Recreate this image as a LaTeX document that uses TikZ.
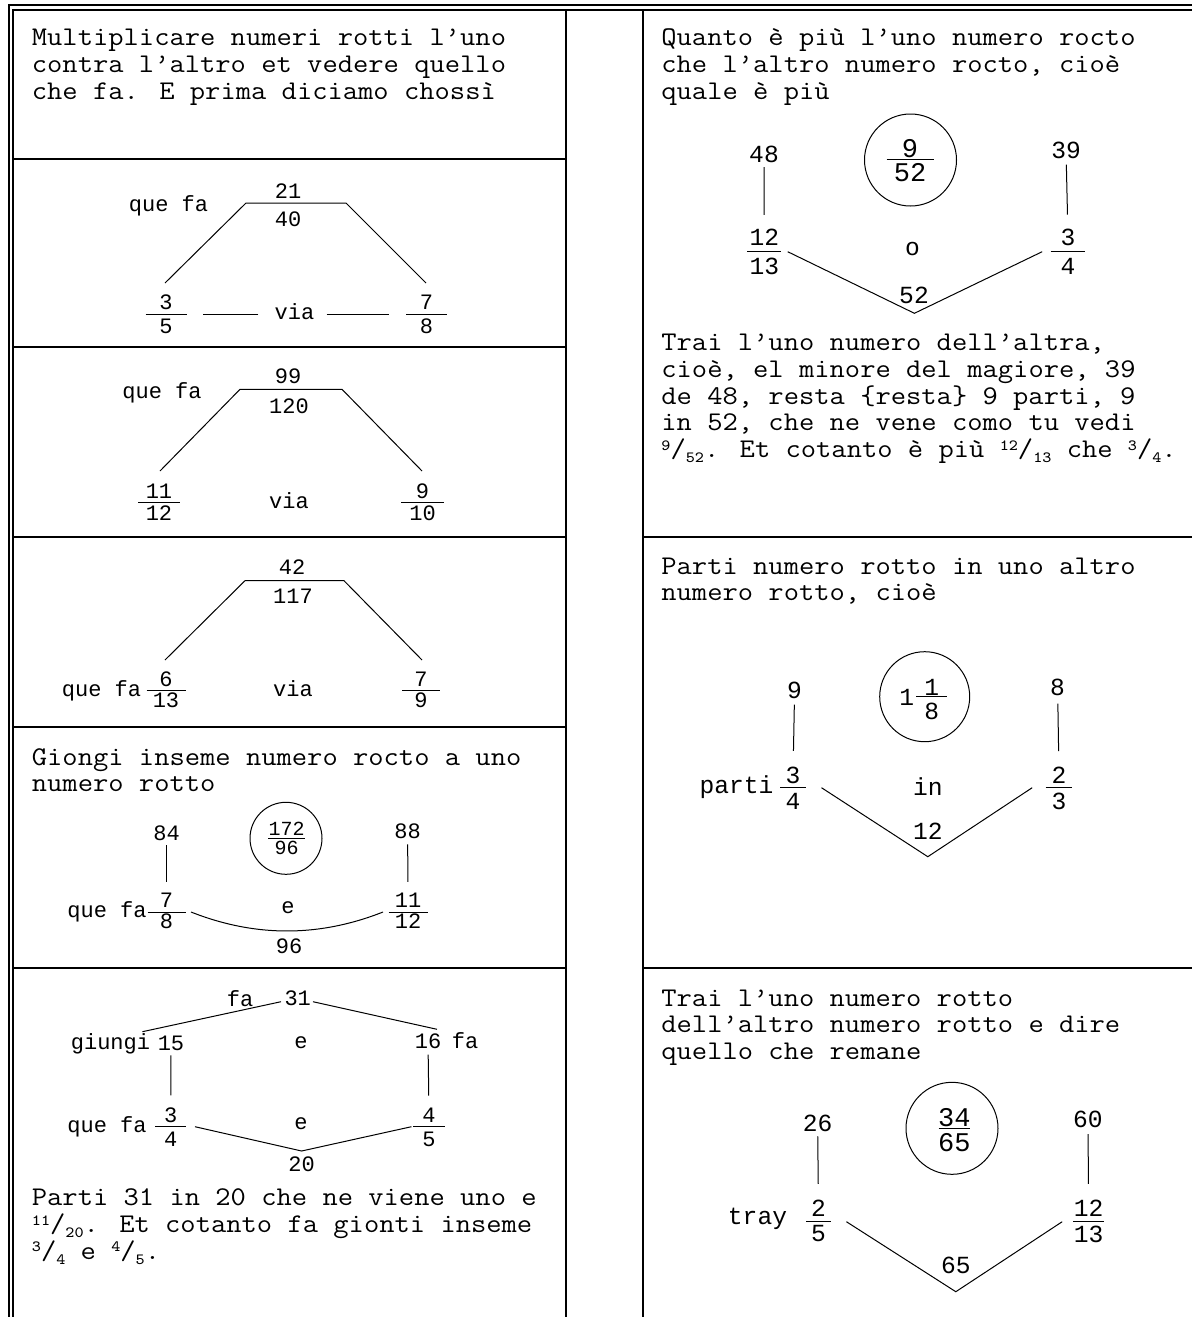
\documentclass[tikz,border=0pt]{standalone}
\usepackage{fontspec}
\usepackage{graphicx}
\newfontfamily\cour{Liberation Mono}
\usetikzlibrary{calc}
\newcommand\mtxt{\ttfamily\fontsize{13.5}{14}\selectfont}
\newcommand\lblL{\cour\fontsize{11}{12}\selectfont}
\newcommand\lblS{\cour\fontsize{10}{11}\selectfont}
\newcommand\lblR{\cour\fontsize{12.3}{13}\selectfont}
\newcommand\lblC{\cour\fontsize{13.5}{14}\selectfont}
\newcommand\sfr[2]{\raisebox{3.6pt}{\fontsize{7.8}{8}\selectfont #1}/\raisebox{-2.5pt}{\fontsize{7.8}{8}\selectfont #2}}
\tikzset{
  frameline/.style={line width=0.9pt},
  cellline/.style={line width=1.15pt},
  conn/.style={line width=0.5pt},
  txt/.style={font=\mtxt, anchor=base west, inner sep=0pt},
  labL/.style={font=\lblL, inner sep=0pt},
  labS/.style={font=\lblS, inner sep=0pt},
  labR/.style={font=\lblR, inner sep=0pt},
  labC/.style={font=\lblC, inner sep=0pt},
  ring/.style={draw, circle, line width=0.5pt, inner sep=0pt},
}
\newcommand\frc[9][labL]{%
  \coordinate (#2) at (#3,#4);
  \draw[conn] ({#3-#5},#4) -- ({#3+#5},#4);
  \node[#1] (#2n) at (#3,{#4-#6}) {#8};
  \node[#1] (#2d) at (#3,{#4+#7}) {#9};
}
\newcommand\mytl[3]{\node[txt] (#1) at #2 {\scalebox{1.10}[1]{#3}};}
\begin{document}
\begin{tikzpicture}[x=0.5pt,y=-0.5pt]
\useasboundingbox (0,0) rectangle (1192,1317);
% frame
\draw[frameline] (9,1317) -- (9,5) -- (1192,5);
\draw[frameline] (13,1317) -- (13,10) -- (1192,10);
\draw[cellline] (566,10) -- (566,1317);
\draw[cellline] (643,10) -- (643,1317);
\foreach \yy in {159,347,537,727,968} {\draw[cellline] (13,\yy) -- (566,\yy);}
\foreach \yy in {537,968} {\draw[cellline] (643,\yy) -- (1192,\yy);}

% ---------- L1
\mytl{L1a}{(31.5,46)}{Multiplicare numeri rotti l’uno}
\mytl{L1b}{(31.5,72.6)}{contra l’altro et vedere quello}
\mytl{L1c}{(31.5,99.2)}{che fa. E prima diciamo chossì}

% ---------- L2
\node[labL] (L2q) at (168.5,206) {que fa};
\node[labL] (L2n) at (288,191) {21};
\node[labL] (L2d) at (288,219) {40};
\coordinate (L2tl) at (246,203); \coordinate (L2tr) at (346,203);
\coordinate (L2bl) at (165,283); \coordinate (L2br) at (426,283);
\draw[conn] (L2bl) -- (L2tl) -- (L2tr) -- (L2br);
\frc{L2a}{166}{314}{20.5}{12}{12}{3}{5}
\frc{L2b}{426.5}{314}{20.5}{12}{12}{7}{8}
\node[labL] (L2v) at (294.5,312) {via};
\draw[conn] ($(L2v.west)+(-16,2)$) -- ($(L2v.west)+(-71,2)$);
\draw[conn] ($(L2v.east)+(12,2)$) -- ($(L2v.east)+(74,2)$);

% ---------- L3
\node[labL] (L3q) at (162,392.7) {que fa};
\node[labL] (L3n) at (288,376) {99};
\node[labL] (L3d) at (289,406) {120};
\coordinate (L3tl) at (240,389.3); \coordinate (L3tr) at (342,389.3);
\coordinate (L3bl) at (160,471); \coordinate (L3br) at (422,471);
\draw[conn] (L3bl) -- (L3tl) -- (L3tr) -- (L3br);
\frc{L3a}{159}{502.7}{21}{11}{10.6}{11}{12}
\frc{L3b}{422.5}{502.7}{21.5}{11}{10.6}{9}{10}
\node[labL] (L3v) at (289,500.7) {via};

% ---------- L4
\node[labL] (L4n) at (292,566.7) {42};
\node[labL] (L4d) at (293,596) {117};
\coordinate (L4tl) at (245,580.7); \coordinate (L4tr) at (344,580.7);
\coordinate (L4bl) at (165,660); \coordinate (L4br) at (422,660);
\draw[conn] (L4bl) -- (L4tl) -- (L4tr) -- (L4br);
\node[labL] (L4q) at (101.5,691) {que fa};
\frc{L4a}{166}{690}{19.5}{11}{10.7}{6}{13}
\frc{L4b}{421}{690}{19}{11}{10.7}{7}{9}
\node[labL] (L4v) at (293,689) {via};

% ---------- L5
\mytl{L5x1}{(31.5,765)}{Giongi inseme numero rocto a uno}
\mytl{L5x2}{(31.5,791.5)}{numero rotto}
\node[labL] (L5a) at (166.5,833.3) {84};
\node[labL] (L5b) at (407.6,831) {88};
\node[ring, minimum size=36pt] (L5c) at (286,838.3) {};
\frc[labS]{L5f}{286.5}{838.3}{18.5}{9.8}{9.8}{172}{96}
\node[labL] (L5q) at (107,911.7) {que fa};
\frc{L5g}{166.5}{912}{19}{12}{9}{7}{8}
\frc{L5h}{408}{912}{19.5}{12}{9}{11}{12}
\draw[conn, shorten <=2pt, shorten >=5pt] (L5a) -- (L5gn);
\draw[conn, shorten <=2.7pt, shorten >=5.2pt] (L5b) -- (L5hn);
\node[labL] (L5e) at (288,907.7) {e};
\coordinate (L5cl) at (191,912); \coordinate (L5cr) at (383,912);
\draw[conn] (L5cl) .. controls (255,937.3) and (319,937.3) .. (L5cr);
\node[labL] (L5s) at (289,946) {96};

% ---------- L6
\node[labL] (L6fa) at (240,998.3) {fa};
\node[labL] (L6t) at (297.7,998) {31};
\coordinate (L6t1) at (281,1001.7); \coordinate (L6t2) at (313,1001.7);
\coordinate (L6l) at (142.4,1031.7); \coordinate (L6r) at (437,1029.3);
\draw[conn] (L6t1) -- (L6l);
\draw[conn] (L6t2) -- (L6r);
\node[labL] (L6g) at (110.5,1043.3) {giungi};
\node[labL] (L6a) at (171,1043) {15};
\node[labL] (L6e1) at (301,1043) {e};
\node[labL] (L6b) at (428,1041) {16};
\node[labL] (L6fb) at (465,1041) {fa};
\node[labL] (L6q) at (107,1126.7) {que fa};
\frc{L6c}{170.7}{1126.7}{15.7}{11.7}{12.3}{3}{4}
\frc{L6d}{429}{1126.7}{16}{11.7}{12.3}{4}{5}
\draw[conn, shorten <=2.35pt, shorten >=5.85pt] (L6a) -- (L6cn);
\draw[conn, shorten <=2.85pt, shorten >=5.85pt] (L6b) -- (L6dn);
\node[labL] (L6e2) at (301,1123.3) {e};
\coordinate (L6vl) at (195,1126.7); \coordinate (L6vb) at (301.6,1151); \coordinate (L6vr) at (411.4,1126.7);
\draw[conn] (L6vl) -- (L6vb) -- (L6vr);
\node[labL] (L6s) at (301.6,1164) {20};
\mytl{L6x1}{(31.5,1205.7)}{Parti 31 in 20 che ne viene uno e}
\mytl{L6x2}{(31.5,1232.3)}{\sfr{11}{20}. Et cotanto fa gionti inseme}
\mytl{L6x3}{(31.5,1259)}{\sfr{3}{4} e \sfr{4}{5}.}

% ---------- R1
\mytl{R1x1}{(661,46)}{Quanto è più l’uno numero rocto}
\mytl{R1x2}{(661,72.6)}{che l’altro numero rocto, cioè}
\mytl{R1x3}{(661,99.2)}{quale è più}
\node[labR] (R1a) at (764,154) {48};
\node[labR] (R1b) at (1066,150) {39};
\node[ring, minimum size=46pt] (R1c) at (910.5,160) {};
\frc[labC]{R1f}{910}{159.3}{23.5}{11}{13.5}{9}{52}
\frc[labR]{R1g}{764.3}{251.7}{17}{14.4}{14.3}{12}{13}
\frc[labR]{R1h}{1068}{251.7}{17.3}{14.4}{14.3}{3}{4}
\draw[conn, shorten <=2.15pt, shorten >=6.95pt] (R1a) -- (R1gn);
\draw[conn, shorten <=2.95pt, shorten >=6.95pt] (R1b) -- (R1hn);
\node[labR] (R1o) at (912.5,249.3) {o};
\coordinate (R1vl) at (787.7,251.7); \coordinate (R1vb) at (914.4,313.3); \coordinate (R1vr) at (1042.2,251.7);
\draw[conn] (R1vl) -- (R1vb) -- (R1vr);
\node[labR] (R1s) at (914,295) {52};
\mytl{R1y1}{(661,350.7)}{Trai l’uno numero dell’altra,}
\mytl{R1y2}{(661,377.4)}{cioè, el minore del magiore, 39}
\mytl{R1y3}{(661,404)}{de 48, resta \{resta\} 9 parti, 9}
\mytl{R1y4}{(661,430.7)}{in 52, che ne vene como tu vedi}
\mytl{R1y5}{(661,457.4)}{\sfr{9}{52}. Et cotanto è più \sfr{12}{13} che \sfr{3}{4}.}

% ---------- R2
\mytl{R2x1}{(661,574.3)}{Parti numero rotto in uno altro}
\mytl{R2x2}{(661,600.9)}{numero rotto, cioè}
\node[labR] (R2a) at (794.6,690.7) {9};
\node[labR] (R2b) at (1057.6,687.7) {8};
\node[ring, minimum size=45pt] (R2c) at (924.7,696.7) {};
\node[labR] (R2one) at (906.7,697) {1};
\frc[labR]{R2f}{931.7}{696.7}{15.4}{9}{15}{1}{8}
\node[labR] (R2p) at (736.5,786.7) {parti};
\frc[labR]{R2g}{793}{787.7}{13}{12.7}{13.3}{3}{4}
\frc[labR]{R2h}{1059}{787.7}{13.3}{12.7}{13.3}{2}{3}
\draw[conn, shorten <=2.6pt, shorten >=7.65pt] (R2a) -- (R2gn);
\draw[conn, shorten <=3.6pt, shorten >=7.65pt] (R2b) -- (R2hn);
\node[labR] (R2i) at (927.8,786.7) {in};
\coordinate (R2vl) at (821.5,787.7); \coordinate (R2vb) at (927.8,856.7); \coordinate (R2vr) at (1032.2,787.7);
\draw[conn] (R2vl) -- (R2vb) -- (R2vr);
\node[labR] (R2s) at (927.8,831.7) {12};

% ---------- R3
\mytl{R3x1}{(661,1006)}{Trai l’uno numero rotto}
\mytl{R3x2}{(661,1032.6)}{dell’altro numero rotto e dire}
\mytl{R3x3}{(661,1059.2)}{quello che remane}
\node[labR] (R3a) at (817.6,1123.3) {26};
\node[labR] (R3b) at (1087.9,1119) {60};
\node[ring, minimum size=46pt] (R3c) at (952,1128.3) {};
\frc[labC]{R3f}{954.3}{1128.3}{15.7}{10.6}{14.4}{34}{65}
\node[labR] (R3t) at (757.5,1219.3) {tray};
\frc[labR]{R3g}{818.5}{1221.7}{12.5}{13.4}{12.3}{2}{5}
\frc[labR]{R3h}{1088.7}{1221.7}{15.7}{13.4}{12.3}{12}{13}
\draw[conn, shorten <=2.15pt, shorten >=7.95pt] (R3a) -- (R3gn);
\draw[conn, shorten <=3.15pt, shorten >=7.95pt] (R3b) -- (R3hn);
\coordinate (R3vl) at (846.4,1221.7); \coordinate (R3vb) at (955.8,1291.7); \coordinate (R3vr) at (1062.2,1221.7);
\draw[conn] (R3vl) -- (R3vb) -- (R3vr);
\node[labR] (R3s) at (955.8,1265) {65};
\end{tikzpicture}
\end{document}
